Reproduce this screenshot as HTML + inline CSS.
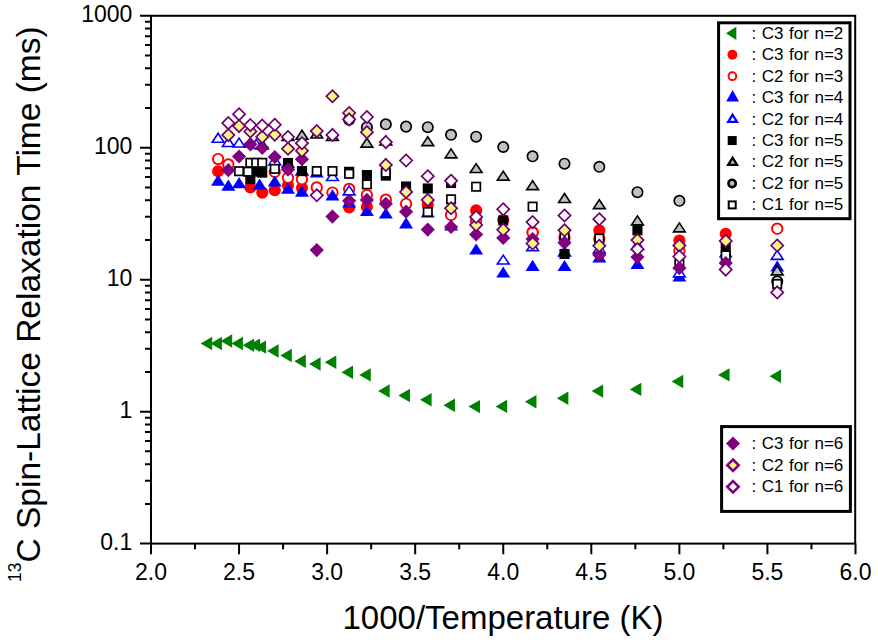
<!DOCTYPE html>
<html><head><meta charset="utf-8"><title>13C Spin-Lattice Relaxation Time</title>
<style>html,body{margin:0;padding:0;background:#fff;width:878px;height:644px;overflow:hidden;font-family:"Liberation Sans",sans-serif;}svg{display:block;}</style>
</head><body>
<svg width="878" height="644" viewBox="0 0 878 644"><g stroke="#000" stroke-width="2" fill="none">
<rect x="151" y="15.8" width="704.2" height="527.8"/>
</g>
<path d="M140 543.6H151M145 503.88H151M145 480.64H151M145 464.16H151M145 451.37H151M145 440.92H151M145 432.09H151M145 424.44H151M145 417.69H151M140 411.65H151M145 371.93H151M145 348.69H151M145 332.21H151M145 319.42H151M145 308.97H151M145 300.14H151M145 292.49H151M145 285.74H151M140 279.7H151M145 239.98H151M145 216.74H151M145 200.26H151M145 187.47H151M145 177.02H151M145 168.19H151M145 160.54H151M145 153.79H151M140 147.75H151M145 108.03H151M145 84.79H151M145 68.31H151M145 55.52H151M145 45.07H151M145 36.24H151M145 28.59H151M145 21.84H151M140 15.8H151M151 543.6V554.3M195.03 543.6V549.3M239.06 543.6V554.3M283.09 543.6V549.3M327.12 543.6V554.3M371.16 543.6V549.3M415.19 543.6V554.3M459.22 543.6V549.3M503.25 543.6V554.3M547.28 543.6V549.3M591.31 543.6V554.3M635.34 543.6V549.3M679.38 543.6V554.3M723.41 543.6V549.3M767.44 543.6V554.3M811.47 543.6V549.3M855.5 543.6V554.3" stroke="#000" stroke-width="2" fill="none"/>
<g font-family="Liberation Sans, sans-serif" font-size="23" fill="#000">
<text x="132.3" y="549.9" text-anchor="end">0.1</text>
<text x="132.3" y="417.95" text-anchor="end">1</text>
<text x="132.3" y="286" text-anchor="end">10</text>
<text x="132.3" y="154.05" text-anchor="end">100</text>
<text x="132.3" y="22.1" text-anchor="end">1000</text>
<text x="151" y="580.3" text-anchor="middle">2.0</text>
<text x="239.06" y="580.3" text-anchor="middle">2.5</text>
<text x="327.12" y="580.3" text-anchor="middle">3.0</text>
<text x="415.19" y="580.3" text-anchor="middle">3.5</text>
<text x="503.25" y="580.3" text-anchor="middle">4.0</text>
<text x="591.31" y="580.3" text-anchor="middle">4.5</text>
<text x="679.38" y="580.3" text-anchor="middle">5.0</text>
<text x="767.44" y="580.3" text-anchor="middle">5.5</text>
<text x="855.5" y="580.3" text-anchor="middle">6.0</text>
</g>
<text x="503" y="628.7" text-anchor="middle" font-family="Liberation Sans, sans-serif" font-size="33" fill="#000">1000/Temperature (K)</text>
<text transform="translate(39.5 582) rotate(-90)" font-family="Liberation Sans, sans-serif" font-size="33.5" fill="#000"><tspan font-size="17.5" dy="-18.5">13</tspan><tspan dy="18.5">C Spin-Lattice Relaxation Time (ms)</tspan></text>
<g>
<path d="M200.64 343.5L212.19 336.8L212.19 350.2Z" fill="#008000"/>
<path d="M210.4 343.5L221.95 336.8L221.95 350.2Z" fill="#008000"/>
<path d="M220.62 341L232.17 334.3L232.17 347.7Z" fill="#008000"/>
<path d="M231.36 343.5L242.91 336.8L242.91 350.2Z" fill="#008000"/>
<path d="M242.65 345.2L254.2 338.5L254.2 351.9Z" fill="#008000"/>
<path d="M248.52 345.3L260.07 338.6L260.07 352Z" fill="#008000"/>
<path d="M254.54 347.1L266.09 340.4L266.09 353.8Z" fill="#008000"/>
<path d="M267.06 351L278.61 344.3L278.61 357.7Z" fill="#008000"/>
<path d="M280.29 355.5L291.84 348.8L291.84 362.2Z" fill="#008000"/>
<path d="M294.26 361.2L305.81 354.5L305.81 367.9Z" fill="#008000"/>
<path d="M309.06 364L320.61 357.3L320.61 370.7Z" fill="#008000"/>
<path d="M324.76 362.3L336.31 355.6L336.31 369Z" fill="#008000"/>
<path d="M341.44 372.3L352.99 365.6L352.99 379Z" fill="#008000"/>
<path d="M359.2 374.9L370.75 368.2L370.75 381.6Z" fill="#008000"/>
<path d="M378.13 391L389.68 384.3L389.68 397.7Z" fill="#008000"/>
<path d="M398.38 395.5L409.93 388.8L409.93 402.2Z" fill="#008000"/>
<path d="M420.07 399.8L431.62 393.1L431.62 406.5Z" fill="#008000"/>
<path d="M443.36 405.2L454.91 398.5L454.91 411.9Z" fill="#008000"/>
<path d="M468.45 406.6L480 399.9L480 413.3Z" fill="#008000"/>
<path d="M495.55 406.4L507.1 399.7L507.1 413.1Z" fill="#008000"/>
<path d="M524.9 401.8L536.45 395.1L536.45 408.5Z" fill="#008000"/>
<path d="M556.81 398.3L568.36 391.6L568.36 405Z" fill="#008000"/>
<path d="M591.62 391.1L603.17 384.4L603.17 397.8Z" fill="#008000"/>
<path d="M629.74 389.4L641.29 382.7L641.29 396.1Z" fill="#008000"/>
<path d="M671.67 381.5L683.23 374.8L683.23 388.2Z" fill="#008000"/>
<path d="M718.02 374.9L729.57 368.2L729.57 381.6Z" fill="#008000"/>
<path d="M769.52 376.2L781.07 369.5L781.07 382.9Z" fill="#008000"/>
<circle cx="218.1" cy="171.2" r="6.05" fill="#ff0000"/>
<circle cx="250.35" cy="187.5" r="6.05" fill="#ff0000"/>
<circle cx="262.24" cy="192.6" r="6.05" fill="#ff0000"/>
<circle cx="274.76" cy="190.3" r="6.05" fill="#ff0000"/>
<circle cx="287.99" cy="185.2" r="6.05" fill="#ff0000"/>
<circle cx="301.96" cy="188.1" r="6.05" fill="#ff0000"/>
<circle cx="349.14" cy="207.4" r="6.05" fill="#ff0000"/>
<circle cx="366.9" cy="206.9" r="6.05" fill="#ff0000"/>
<circle cx="427.77" cy="204.8" r="6.05" fill="#ff0000"/>
<circle cx="476.15" cy="210.4" r="6.05" fill="#ff0000"/>
<circle cx="503.25" cy="220" r="6.05" fill="#ff0000"/>
<circle cx="532.6" cy="232" r="6.05" fill="#ff0000"/>
<circle cx="599.32" cy="230.3" r="6.05" fill="#ff0000"/>
<circle cx="679.38" cy="240.5" r="6.05" fill="#ff0000"/>
<circle cx="725.72" cy="233.9" r="6.05" fill="#ff0000"/>
<circle cx="218.1" cy="159.1" r="5.2" fill="#fff" stroke="#ff0000" stroke-width="1.9"/>
<circle cx="228.32" cy="164.4" r="5.2" fill="#fff" stroke="#ff0000" stroke-width="1.9"/>
<circle cx="274.76" cy="172" r="5.2" fill="#fff" stroke="#ff0000" stroke-width="1.9"/>
<circle cx="287.99" cy="177.8" r="5.2" fill="#fff" stroke="#ff0000" stroke-width="1.9"/>
<circle cx="301.96" cy="179.2" r="5.2" fill="#fff" stroke="#ff0000" stroke-width="1.9"/>
<circle cx="316.76" cy="187.4" r="5.2" fill="#fff" stroke="#ff0000" stroke-width="1.9"/>
<circle cx="332.46" cy="192.6" r="5.2" fill="#fff" stroke="#ff0000" stroke-width="1.9"/>
<circle cx="349.14" cy="188.9" r="5.2" fill="#fff" stroke="#ff0000" stroke-width="1.9"/>
<circle cx="366.9" cy="195.1" r="5.2" fill="#fff" stroke="#ff0000" stroke-width="1.9"/>
<circle cx="385.83" cy="199.7" r="5.2" fill="#fff" stroke="#ff0000" stroke-width="1.9"/>
<circle cx="406.08" cy="203.8" r="5.2" fill="#fff" stroke="#ff0000" stroke-width="1.9"/>
<circle cx="451.06" cy="214.9" r="5.2" fill="#fff" stroke="#ff0000" stroke-width="1.9"/>
<circle cx="476.15" cy="220.5" r="5.2" fill="#fff" stroke="#ff0000" stroke-width="1.9"/>
<circle cx="532.6" cy="232.4" r="5.2" fill="#fff" stroke="#ff0000" stroke-width="1.9"/>
<circle cx="564.51" cy="237.7" r="5.2" fill="#fff" stroke="#ff0000" stroke-width="1.9"/>
<circle cx="599.32" cy="239" r="5.2" fill="#fff" stroke="#ff0000" stroke-width="1.9"/>
<circle cx="679.38" cy="251" r="5.2" fill="#fff" stroke="#ff0000" stroke-width="1.9"/>
<circle cx="777.22" cy="228.7" r="5.2" fill="#fff" stroke="#ff0000" stroke-width="1.9"/>
<path d="M218.1 174.6L225.1 185.8L211.1 185.8Z" fill="#0000ff"/>
<path d="M228.32 179.6L235.32 190.8L221.32 190.8Z" fill="#0000ff"/>
<path d="M239.06 177L246.06 188.2L232.06 188.2Z" fill="#0000ff"/>
<path d="M274.76 175.4L281.76 186.6L267.76 186.6Z" fill="#0000ff"/>
<path d="M287.99 182.5L294.99 193.7L280.99 193.7Z" fill="#0000ff"/>
<path d="M301.96 185.5L308.96 196.7L294.96 196.7Z" fill="#0000ff"/>
<path d="M316.76 166.4L323.76 177.6L309.76 177.6Z" fill="#0000ff"/>
<path d="M332.46 189.2L339.46 200.4L325.46 200.4Z" fill="#0000ff"/>
<path d="M349.14 196.4L356.14 207.6L342.14 207.6Z" fill="#0000ff"/>
<path d="M366.9 204.9L373.9 216.1L359.9 216.1Z" fill="#0000ff"/>
<path d="M385.83 207.4L392.83 218.6L378.83 218.6Z" fill="#0000ff"/>
<path d="M406.08 217.2L413.08 228.4L399.08 228.4Z" fill="#0000ff"/>
<path d="M427.77 206.4L434.77 217.6L420.77 217.6Z" fill="#0000ff"/>
<path d="M451.06 219.4L458.06 230.6L444.06 230.6Z" fill="#0000ff"/>
<path d="M476.15 243.4L483.15 254.6L469.15 254.6Z" fill="#0000ff"/>
<path d="M503.25 266.4L510.25 277.6L496.25 277.6Z" fill="#0000ff"/>
<path d="M532.6 259.7L539.6 270.9L525.6 270.9Z" fill="#0000ff"/>
<path d="M564.51 259.9L571.51 271.1L557.51 271.1Z" fill="#0000ff"/>
<path d="M599.32 251.4L606.32 262.6L592.32 262.6Z" fill="#0000ff"/>
<path d="M637.44 257.9L644.44 269.1L630.44 269.1Z" fill="#0000ff"/>
<path d="M679.38 270.4L686.38 281.6L672.38 281.6Z" fill="#0000ff"/>
<path d="M725.72 246.4L732.72 257.6L718.72 257.6Z" fill="#0000ff"/>
<path d="M777.22 260.4L784.22 271.6L770.22 271.6Z" fill="#0000ff"/>
<path d="M259.6 178.6L266.6 189.8L252.6 189.8Z" fill="#0000ff"/>
<path d="M218.1 133.3L224 142.25L212.2 142.25Z" fill="#fff" stroke="#0000ff" stroke-width="1.6" stroke-linejoin="miter"/>
<path d="M228.32 137.5L234.22 146.45L222.42 146.45Z" fill="#fff" stroke="#0000ff" stroke-width="1.6" stroke-linejoin="miter"/>
<path d="M239.06 138.1L244.96 147.05L233.16 147.05Z" fill="#fff" stroke="#0000ff" stroke-width="1.6" stroke-linejoin="miter"/>
<path d="M250.35 137.9L256.25 146.85L244.45 146.85Z" fill="#fff" stroke="#0000ff" stroke-width="1.6" stroke-linejoin="miter"/>
<path d="M256.22 139.4L262.12 148.35L250.32 148.35Z" fill="#fff" stroke="#0000ff" stroke-width="1.6" stroke-linejoin="miter"/>
<path d="M274.76 155.9L280.66 164.85L268.86 164.85Z" fill="#fff" stroke="#0000ff" stroke-width="1.6" stroke-linejoin="miter"/>
<path d="M287.99 158.6L293.89 167.55L282.09 167.55Z" fill="#fff" stroke="#0000ff" stroke-width="1.6" stroke-linejoin="miter"/>
<path d="M301.96 165.9L307.86 174.85L296.06 174.85Z" fill="#fff" stroke="#0000ff" stroke-width="1.6" stroke-linejoin="miter"/>
<path d="M332.46 171.6L338.36 180.55L326.56 180.55Z" fill="#fff" stroke="#0000ff" stroke-width="1.6" stroke-linejoin="miter"/>
<path d="M349.14 185.9L355.04 194.85L343.24 194.85Z" fill="#fff" stroke="#0000ff" stroke-width="1.6" stroke-linejoin="miter"/>
<path d="M503.25 255.1L509.15 264.05L497.35 264.05Z" fill="#fff" stroke="#0000ff" stroke-width="1.6" stroke-linejoin="miter"/>
<path d="M532.6 241.7L538.5 250.65L526.7 250.65Z" fill="#fff" stroke="#0000ff" stroke-width="1.6" stroke-linejoin="miter"/>
<path d="M564.51 246.9L570.41 255.85L558.61 255.85Z" fill="#fff" stroke="#0000ff" stroke-width="1.6" stroke-linejoin="miter"/>
<path d="M599.32 243.9L605.22 252.85L593.42 252.85Z" fill="#fff" stroke="#0000ff" stroke-width="1.6" stroke-linejoin="miter"/>
<path d="M637.44 240.5L643.34 249.45L631.54 249.45Z" fill="#fff" stroke="#0000ff" stroke-width="1.6" stroke-linejoin="miter"/>
<path d="M679.38 267.9L685.27 276.85L673.48 276.85Z" fill="#fff" stroke="#0000ff" stroke-width="1.6" stroke-linejoin="miter"/>
<path d="M777.22 250.4L783.12 259.35L771.32 259.35Z" fill="#fff" stroke="#0000ff" stroke-width="1.6" stroke-linejoin="miter"/>
<rect x="245.3" y="174.05" width="10.1" height="10.1" fill="#000000"/>
<rect x="251.17" y="166.65" width="10.1" height="10.1" fill="#000000"/>
<rect x="257.19" y="167.55" width="10.1" height="10.1" fill="#000000"/>
<rect x="282.94" y="157.95" width="10.1" height="10.1" fill="#000000"/>
<rect x="296.91" y="166.05" width="10.1" height="10.1" fill="#000000"/>
<rect x="344.09" y="166.75" width="10.1" height="10.1" fill="#000000"/>
<rect x="361.85" y="170.05" width="10.1" height="10.1" fill="#000000"/>
<rect x="380.78" y="170.55" width="10.1" height="10.1" fill="#000000"/>
<rect x="401.03" y="181.45" width="10.1" height="10.1" fill="#000000"/>
<rect x="422.72" y="183.45" width="10.1" height="10.1" fill="#000000"/>
<rect x="446.01" y="177.95" width="10.1" height="10.1" fill="#000000"/>
<rect x="498.2" y="215.45" width="10.1" height="10.1" fill="#000000"/>
<rect x="559.46" y="248.95" width="10.1" height="10.1" fill="#000000"/>
<rect x="632.39" y="225.25" width="10.1" height="10.1" fill="#000000"/>
<rect x="720.67" y="243.05" width="10.1" height="10.1" fill="#000000"/>
<path d="M262.24 139.9L268.14 148.85L256.34 148.85Z" fill="#c0c0c0" stroke="#000000" stroke-width="1.6" stroke-linejoin="miter"/>
<path d="M287.99 131.4L293.89 140.35L282.09 140.35Z" fill="#c0c0c0" stroke="#000000" stroke-width="1.6" stroke-linejoin="miter"/>
<path d="M301.96 130.3L307.86 139.25L296.06 139.25Z" fill="#c0c0c0" stroke="#000000" stroke-width="1.6" stroke-linejoin="miter"/>
<path d="M316.76 129.1L322.66 138.05L310.86 138.05Z" fill="#c0c0c0" stroke="#000000" stroke-width="1.6" stroke-linejoin="miter"/>
<path d="M332.46 131.4L338.36 140.35L326.56 140.35Z" fill="#c0c0c0" stroke="#000000" stroke-width="1.6" stroke-linejoin="miter"/>
<path d="M366.9 138.2L372.8 147.15L361 147.15Z" fill="#c0c0c0" stroke="#000000" stroke-width="1.6" stroke-linejoin="miter"/>
<path d="M385.83 135.9L391.73 144.85L379.93 144.85Z" fill="#c0c0c0" stroke="#000000" stroke-width="1.6" stroke-linejoin="miter"/>
<path d="M427.77 136.7L433.67 145.65L421.87 145.65Z" fill="#c0c0c0" stroke="#000000" stroke-width="1.6" stroke-linejoin="miter"/>
<path d="M451.06 148.9L456.96 157.85L445.16 157.85Z" fill="#c0c0c0" stroke="#000000" stroke-width="1.6" stroke-linejoin="miter"/>
<path d="M476.15 163.6L482.05 172.55L470.25 172.55Z" fill="#c0c0c0" stroke="#000000" stroke-width="1.6" stroke-linejoin="miter"/>
<path d="M503.25 171.2L509.15 180.15L497.35 180.15Z" fill="#c0c0c0" stroke="#000000" stroke-width="1.6" stroke-linejoin="miter"/>
<path d="M532.6 180.7L538.5 189.65L526.7 189.65Z" fill="#c0c0c0" stroke="#000000" stroke-width="1.6" stroke-linejoin="miter"/>
<path d="M564.51 193.5L570.41 202.45L558.61 202.45Z" fill="#c0c0c0" stroke="#000000" stroke-width="1.6" stroke-linejoin="miter"/>
<path d="M599.32 199.7L605.22 208.65L593.42 208.65Z" fill="#c0c0c0" stroke="#000000" stroke-width="1.6" stroke-linejoin="miter"/>
<path d="M637.44 215.9L643.34 224.85L631.54 224.85Z" fill="#c0c0c0" stroke="#000000" stroke-width="1.6" stroke-linejoin="miter"/>
<path d="M679.38 222.9L685.27 231.85L673.48 231.85Z" fill="#c0c0c0" stroke="#000000" stroke-width="1.6" stroke-linejoin="miter"/>
<path d="M777.22 265.9L783.12 274.85L771.32 274.85Z" fill="#c0c0c0" stroke="#000000" stroke-width="1.6" stroke-linejoin="miter"/>
<circle cx="349.14" cy="119.8" r="5.2" fill="#c0c0c0" stroke="#000000" stroke-width="1.7"/>
<circle cx="366.9" cy="127.2" r="5.2" fill="#c0c0c0" stroke="#000000" stroke-width="1.7"/>
<circle cx="385.83" cy="124.3" r="5.2" fill="#c0c0c0" stroke="#000000" stroke-width="1.7"/>
<circle cx="406.08" cy="126.6" r="5.2" fill="#c0c0c0" stroke="#000000" stroke-width="1.7"/>
<circle cx="427.77" cy="127.2" r="5.2" fill="#c0c0c0" stroke="#000000" stroke-width="1.7"/>
<circle cx="451.06" cy="134.8" r="5.2" fill="#c0c0c0" stroke="#000000" stroke-width="1.7"/>
<circle cx="476.15" cy="136.7" r="5.2" fill="#c0c0c0" stroke="#000000" stroke-width="1.7"/>
<circle cx="503.25" cy="147" r="5.2" fill="#c0c0c0" stroke="#000000" stroke-width="1.7"/>
<circle cx="532.6" cy="156.3" r="5.2" fill="#c0c0c0" stroke="#000000" stroke-width="1.7"/>
<circle cx="564.51" cy="163.7" r="5.2" fill="#c0c0c0" stroke="#000000" stroke-width="1.7"/>
<circle cx="599.32" cy="166.8" r="5.2" fill="#c0c0c0" stroke="#000000" stroke-width="1.7"/>
<circle cx="637.44" cy="192.2" r="5.2" fill="#c0c0c0" stroke="#000000" stroke-width="1.7"/>
<circle cx="679.38" cy="200.8" r="5.2" fill="#c0c0c0" stroke="#000000" stroke-width="1.7"/>
<circle cx="777.22" cy="281.4" r="5.2" fill="#c0c0c0" stroke="#000000" stroke-width="1.7"/>
<rect x="234.86" y="167" width="8.4" height="8.4" fill="#fff" stroke="#000000" stroke-width="1.7"/>
<rect x="246.15" y="158.6" width="8.4" height="8.4" fill="#fff" stroke="#000000" stroke-width="1.7"/>
<rect x="252.02" y="158.6" width="8.4" height="8.4" fill="#fff" stroke="#000000" stroke-width="1.7"/>
<rect x="258.04" y="158.6" width="8.4" height="8.4" fill="#fff" stroke="#000000" stroke-width="1.7"/>
<rect x="270.56" y="164.7" width="8.4" height="8.4" fill="#fff" stroke="#000000" stroke-width="1.7"/>
<rect x="312.56" y="166.9" width="8.4" height="8.4" fill="#fff" stroke="#000000" stroke-width="1.7"/>
<rect x="328.26" y="166.9" width="8.4" height="8.4" fill="#fff" stroke="#000000" stroke-width="1.7"/>
<rect x="344.94" y="169.6" width="8.4" height="8.4" fill="#fff" stroke="#000000" stroke-width="1.7"/>
<rect x="362.7" y="180.2" width="8.4" height="8.4" fill="#fff" stroke="#000000" stroke-width="1.7"/>
<rect x="381.63" y="168.5" width="8.4" height="8.4" fill="#fff" stroke="#000000" stroke-width="1.7"/>
<rect x="423.57" y="207.8" width="8.4" height="8.4" fill="#fff" stroke="#000000" stroke-width="1.7"/>
<rect x="446.86" y="195.1" width="8.4" height="8.4" fill="#fff" stroke="#000000" stroke-width="1.7"/>
<rect x="471.95" y="182.5" width="8.4" height="8.4" fill="#fff" stroke="#000000" stroke-width="1.7"/>
<rect x="528.4" y="202.4" width="8.4" height="8.4" fill="#fff" stroke="#000000" stroke-width="1.7"/>
<rect x="560.31" y="232.8" width="8.4" height="8.4" fill="#fff" stroke="#000000" stroke-width="1.7"/>
<rect x="595.12" y="234.3" width="8.4" height="8.4" fill="#fff" stroke="#000000" stroke-width="1.7"/>
<rect x="675.17" y="259.5" width="8.4" height="8.4" fill="#fff" stroke="#000000" stroke-width="1.7"/>
<rect x="721.52" y="251.2" width="8.4" height="8.4" fill="#fff" stroke="#000000" stroke-width="1.7"/>
<rect x="773.02" y="279.8" width="8.4" height="8.4" fill="#fff" stroke="#000000" stroke-width="1.7"/>
<rect x="243.8" y="167.5" width="8.4" height="8.4" fill="#fff" stroke="#000000" stroke-width="1.7"/>
<path d="M228.32 163.1L235.42 170.2L228.32 177.3L221.22 170.2Z" fill="#800080"/>
<path d="M239.06 149.4L246.16 156.5L239.06 163.6L231.96 156.5Z" fill="#800080"/>
<path d="M250.35 137.2L257.45 144.3L250.35 151.4L243.25 144.3Z" fill="#800080"/>
<path d="M262.24 140.7L269.34 147.8L262.24 154.9L255.14 147.8Z" fill="#800080"/>
<path d="M274.76 149.9L281.86 157L274.76 164.1L267.66 157Z" fill="#800080"/>
<path d="M287.99 162.5L295.09 169.6L287.99 176.7L280.89 169.6Z" fill="#800080"/>
<path d="M301.96 152.1L309.06 159.2L301.96 166.3L294.86 159.2Z" fill="#800080"/>
<path d="M316.76 243L323.86 250.1L316.76 257.2L309.66 250.1Z" fill="#800080"/>
<path d="M332.46 209.5L339.56 216.6L332.46 223.7L325.36 216.6Z" fill="#800080"/>
<path d="M349.14 193.7L356.24 200.8L349.14 207.9L342.04 200.8Z" fill="#800080"/>
<path d="M366.9 192.8L374 199.9L366.9 207L359.8 199.9Z" fill="#800080"/>
<path d="M385.83 196.7L392.93 203.8L385.83 210.9L378.73 203.8Z" fill="#800080"/>
<path d="M406.08 204.6L413.18 211.7L406.08 218.8L398.98 211.7Z" fill="#800080"/>
<path d="M427.77 222.5L434.87 229.6L427.77 236.7L420.67 229.6Z" fill="#800080"/>
<path d="M451.06 219.9L458.16 227L451.06 234.1L443.96 227Z" fill="#800080"/>
<path d="M476.15 227.4L483.25 234.5L476.15 241.6L469.05 234.5Z" fill="#800080"/>
<path d="M503.25 230.8L510.35 237.9L503.25 245L496.15 237.9Z" fill="#800080"/>
<path d="M532.6 232L539.7 239.1L532.6 246.2L525.5 239.1Z" fill="#800080"/>
<path d="M564.51 235.6L571.61 242.7L564.51 249.8L557.41 242.7Z" fill="#800080"/>
<path d="M599.32 247.8L606.42 254.9L599.32 262L592.22 254.9Z" fill="#800080"/>
<path d="M637.44 250L644.54 257.1L637.44 264.2L630.34 257.1Z" fill="#800080"/>
<path d="M679.38 261L686.48 268.1L679.38 275.2L672.27 268.1Z" fill="#800080"/>
<path d="M725.72 255.9L732.82 263L725.72 270.1L718.62 263Z" fill="#800080"/>
<path d="M228.32 129L234.42 135.1L228.32 141.2L222.22 135.1Z" fill="#f8f880" stroke="#700070" stroke-width="1.7"/>
<path d="M239.06 120L245.16 126.1L239.06 132.2L232.96 126.1Z" fill="#f8f880" stroke="#700070" stroke-width="1.7"/>
<path d="M250.35 125.4L256.45 131.5L250.35 137.6L244.25 131.5Z" fill="#f8f880" stroke="#700070" stroke-width="1.7"/>
<path d="M262.24 130.8L268.34 136.9L262.24 143L256.14 136.9Z" fill="#f8f880" stroke="#700070" stroke-width="1.7"/>
<path d="M274.76 128.6L280.86 134.7L274.76 140.8L268.66 134.7Z" fill="#f8f880" stroke="#700070" stroke-width="1.7"/>
<path d="M287.99 142.7L294.09 148.8L287.99 154.9L281.89 148.8Z" fill="#f8f880" stroke="#700070" stroke-width="1.7"/>
<path d="M301.96 144.6L308.06 150.7L301.96 156.8L295.86 150.7Z" fill="#f8f880" stroke="#700070" stroke-width="1.7"/>
<path d="M316.76 125L322.86 131.1L316.76 137.2L310.66 131.1Z" fill="#f8f880" stroke="#700070" stroke-width="1.7"/>
<path d="M332.46 90.2L338.56 96.3L332.46 102.4L326.36 96.3Z" fill="#f8f880" stroke="#700070" stroke-width="1.7"/>
<path d="M349.14 106.9L355.24 113L349.14 119.1L343.04 113Z" fill="#f8f880" stroke="#700070" stroke-width="1.7"/>
<path d="M366.9 126.1L373 132.2L366.9 138.3L360.8 132.2Z" fill="#f8f880" stroke="#700070" stroke-width="1.7"/>
<path d="M385.83 158.8L391.93 164.9L385.83 171L379.73 164.9Z" fill="#f8f880" stroke="#700070" stroke-width="1.7"/>
<path d="M406.08 185.8L412.18 191.9L406.08 198L399.98 191.9Z" fill="#f8f880" stroke="#700070" stroke-width="1.7"/>
<path d="M427.77 193.8L433.87 199.9L427.77 206L421.67 199.9Z" fill="#f8f880" stroke="#700070" stroke-width="1.7"/>
<path d="M451.06 202.2L457.16 208.3L451.06 214.4L444.96 208.3Z" fill="#f8f880" stroke="#700070" stroke-width="1.7"/>
<path d="M476.15 218.9L482.25 225L476.15 231.1L470.05 225Z" fill="#f8f880" stroke="#700070" stroke-width="1.7"/>
<path d="M503.25 223.7L509.35 229.8L503.25 235.9L497.15 229.8Z" fill="#f8f880" stroke="#700070" stroke-width="1.7"/>
<path d="M532.6 237.4L538.7 243.5L532.6 249.6L526.5 243.5Z" fill="#f8f880" stroke="#700070" stroke-width="1.7"/>
<path d="M564.51 224.2L570.61 230.3L564.51 236.4L558.41 230.3Z" fill="#f8f880" stroke="#700070" stroke-width="1.7"/>
<path d="M599.32 239.7L605.42 245.8L599.32 251.9L593.22 245.8Z" fill="#f8f880" stroke="#700070" stroke-width="1.7"/>
<path d="M637.44 234L643.54 240.1L637.44 246.2L631.34 240.1Z" fill="#f8f880" stroke="#700070" stroke-width="1.7"/>
<path d="M679.38 239.5L685.48 245.6L679.38 251.7L673.27 245.6Z" fill="#f8f880" stroke="#700070" stroke-width="1.7"/>
<path d="M725.72 234.9L731.82 241L725.72 247.1L719.62 241Z" fill="#f8f880" stroke="#700070" stroke-width="1.7"/>
<path d="M777.22 239.4L783.32 245.5L777.22 251.6L771.12 245.5Z" fill="#f8f880" stroke="#700070" stroke-width="1.7"/>
<path d="M228.32 117L234.42 123.1L228.32 129.2L222.22 123.1Z" fill="#fff" stroke="#700070" stroke-width="1.7"/>
<path d="M239.06 108.1L245.16 114.2L239.06 120.3L232.96 114.2Z" fill="#fff" stroke="#700070" stroke-width="1.7"/>
<path d="M250.35 119L256.45 125.1L250.35 131.2L244.25 125.1Z" fill="#fff" stroke="#700070" stroke-width="1.7"/>
<path d="M262.24 119.5L268.34 125.6L262.24 131.7L256.14 125.6Z" fill="#fff" stroke="#700070" stroke-width="1.7"/>
<path d="M274.76 118.6L280.86 124.7L274.76 130.8L268.66 124.7Z" fill="#fff" stroke="#700070" stroke-width="1.7"/>
<path d="M287.99 130.9L294.09 137L287.99 143.1L281.89 137Z" fill="#fff" stroke="#700070" stroke-width="1.7"/>
<path d="M301.96 137.1L308.06 143.2L301.96 149.3L295.86 143.2Z" fill="#fff" stroke="#700070" stroke-width="1.7"/>
<path d="M316.76 189.2L322.86 195.3L316.76 201.4L310.66 195.3Z" fill="#fff" stroke="#700070" stroke-width="1.7"/>
<path d="M332.46 128.8L338.56 134.9L332.46 141L326.36 134.9Z" fill="#fff" stroke="#700070" stroke-width="1.7"/>
<path d="M349.14 113.3L355.24 119.4L349.14 125.5L343.04 119.4Z" fill="#fff" stroke="#700070" stroke-width="1.7"/>
<path d="M366.9 110.9L373 117L366.9 123.1L360.8 117Z" fill="#fff" stroke="#700070" stroke-width="1.7"/>
<path d="M385.83 136L391.93 142.1L385.83 148.2L379.73 142.1Z" fill="#fff" stroke="#700070" stroke-width="1.7"/>
<path d="M406.08 154.4L412.18 160.5L406.08 166.6L399.98 160.5Z" fill="#fff" stroke="#700070" stroke-width="1.7"/>
<path d="M427.77 170.1L433.87 176.2L427.77 182.3L421.67 176.2Z" fill="#fff" stroke="#700070" stroke-width="1.7"/>
<path d="M451.06 174.7L457.16 180.8L451.06 186.9L444.96 180.8Z" fill="#fff" stroke="#700070" stroke-width="1.7"/>
<path d="M476.15 210.8L482.25 216.9L476.15 223L470.05 216.9Z" fill="#fff" stroke="#700070" stroke-width="1.7"/>
<path d="M503.25 203.1L509.35 209.2L503.25 215.3L497.15 209.2Z" fill="#fff" stroke="#700070" stroke-width="1.7"/>
<path d="M532.6 216L538.7 222.1L532.6 228.2L526.5 222.1Z" fill="#fff" stroke="#700070" stroke-width="1.7"/>
<path d="M564.51 209.4L570.61 215.5L564.51 221.6L558.41 215.5Z" fill="#fff" stroke="#700070" stroke-width="1.7"/>
<path d="M599.32 213.1L605.42 219.2L599.32 225.3L593.22 219.2Z" fill="#fff" stroke="#700070" stroke-width="1.7"/>
<path d="M637.44 243.1L643.54 249.2L637.44 255.3L631.34 249.2Z" fill="#fff" stroke="#700070" stroke-width="1.7"/>
<path d="M679.38 250.4L685.48 256.5L679.38 262.6L673.27 256.5Z" fill="#fff" stroke="#700070" stroke-width="1.7"/>
<path d="M725.72 263.5L731.82 269.6L725.72 275.7L719.62 269.6Z" fill="#fff" stroke="#700070" stroke-width="1.7"/>
<path d="M777.22 286.3L783.32 292.4L777.22 298.5L771.12 292.4Z" fill="#fff" stroke="#700070" stroke-width="1.7"/>
</g>
<rect x="718.6" y="22.8" width="131.4" height="195.9" fill="#fff" stroke="#000" stroke-width="3"/>
<rect x="721.6" y="426.6" width="128.8" height="84.8" fill="#fff" stroke="#000" stroke-width="3"/>
<text x="751.6" y="38.7" font-family="Liberation Sans, sans-serif" font-size="17" word-spacing="0.8" fill="#000">: C3 for n=2</text>
<text x="751.6" y="60.15" font-family="Liberation Sans, sans-serif" font-size="17" word-spacing="0.8" fill="#000">: C3 for n=3</text>
<text x="751.6" y="81.6" font-family="Liberation Sans, sans-serif" font-size="17" word-spacing="0.8" fill="#000">: C2 for n=3</text>
<text x="751.6" y="103.05" font-family="Liberation Sans, sans-serif" font-size="17" word-spacing="0.8" fill="#000">: C3 for n=4</text>
<text x="751.6" y="124.5" font-family="Liberation Sans, sans-serif" font-size="17" word-spacing="0.8" fill="#000">: C2 for n=4</text>
<text x="751.6" y="145.95" font-family="Liberation Sans, sans-serif" font-size="17" word-spacing="0.8" fill="#000">: C3 for n=5</text>
<text x="751.6" y="167.4" font-family="Liberation Sans, sans-serif" font-size="17" word-spacing="0.8" fill="#000">: C2 for n=5</text>
<text x="751.6" y="188.85" font-family="Liberation Sans, sans-serif" font-size="17" word-spacing="0.8" fill="#000">: C2 for n=5</text>
<text x="751.6" y="210.3" font-family="Liberation Sans, sans-serif" font-size="17" word-spacing="0.8" fill="#000">: C1 for n=5</text>
<path d="M726 33.3L736.3 26.7L736.3 39.9Z" fill="#008000"/>
<circle cx="732.4" cy="54.75" r="4.95" fill="#ff0000"/>
<circle cx="732.4" cy="76.2" r="3.85" fill="#fff" stroke="#ff0000" stroke-width="2.0"/>
<path d="M732.6 89.9L739 101.6L726.2 101.6Z" fill="#0000ff"/>
<path d="M732.6 114.8L737.01 121.9L728.19 121.9Z" fill="#fff" stroke="#0000ff" stroke-width="2.3"/>
<rect x="727.7" y="136.05" width="9" height="9" fill="#000000"/>
<path d="M732.6 157.7L737.01 164.8L728.19 164.8Z" fill="#c0c0c0" stroke="#000000" stroke-width="2.3"/>
<circle cx="732.1" cy="183.45" r="3.65" fill="#c0c0c0" stroke="#000000" stroke-width="2.6"/>
<rect x="728.7" y="201.4" width="7" height="7" fill="#fff" stroke="#000000" stroke-width="2.0"/>
<text x="751.6" y="449.1" font-family="Liberation Sans, sans-serif" font-size="17" word-spacing="0.8" fill="#000">: C3 for n=6</text>
<text x="751.6" y="470.7" font-family="Liberation Sans, sans-serif" font-size="17" word-spacing="0.8" fill="#000">: C2 for n=6</text>
<text x="751.6" y="492.3" font-family="Liberation Sans, sans-serif" font-size="17" word-spacing="0.8" fill="#000">: C1 for n=6</text>
<path d="M733 436.6L740 443.6L733 450.6L726 443.6Z" fill="#800080"/>
<path d="M733 459.5L738.7 465.2L733 470.9L727.3 465.2Z" fill="#f8f880" stroke="#800080" stroke-width="2.6"/>
<path d="M733 481.1L738.7 486.8L733 492.5L727.3 486.8Z" fill="#fff" stroke="#800080" stroke-width="2.6"/></svg>
</body></html>
